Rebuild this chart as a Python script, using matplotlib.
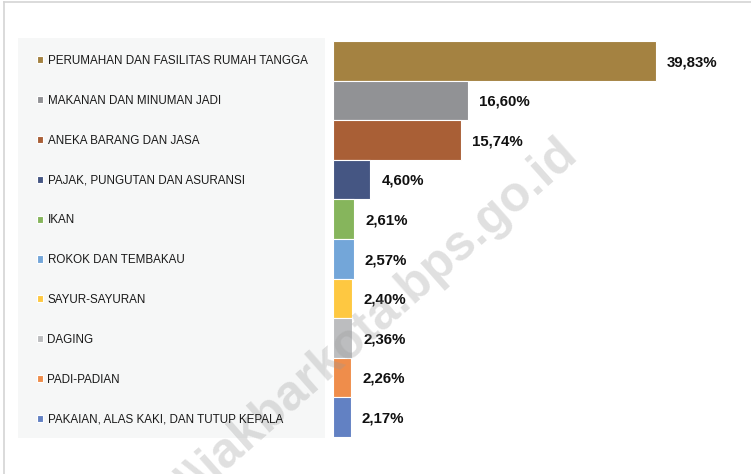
import matplotlib.pyplot as plt
from matplotlib.patches import Rectangle
from matplotlib.lines import Line2D

W, H = 751, 474

categories = [
    "PERUMAHAN DAN FASILITAS RUMAH TANGGA",
    "MAKANAN DAN MINUMAN JADI",
    "ANEKA BARANG DAN JASA",
    "PAJAK, PUNGUTAN DAN ASURANSI",
    "IKAN",
    "ROKOK DAN TEMBAKAU",
    "SAYUR-SAYURAN",
    "DAGING",
    "PADI-PADIAN",
    "PAKAIAN, ALAS KAKI, DAN TUTUP KEPALA",
]
values = [39.83, 16.60, 15.74, 4.60, 2.61, 2.57, 2.40, 2.36, 2.26, 2.17]
colors = ["#a48241", "#919295", "#a95f36", "#455683", "#86b55c",
          "#73a6d9", "#fec841", "#bcbdbf", "#ef8d4b", "#6281c3"]

plt.rcParams["font.family"] = ["Liberation Sans", "DejaVu Sans"]

fig = plt.figure(figsize=(W / 100, H / 100), dpi=100)
fig.patch.set_facecolor("white")

# outer frame (top and left edges visible in the crop)
fig.add_artist(Line2D([4 / W, 4 / W], [0, 1 - 2 / H], color="#d4d4d4", lw=1.2))
fig.add_artist(Line2D([4 / W, 1], [1 - 2 / H, 1 - 2 / H], color="#d4d4d4", lw=1.2))

# legend panel background
fig.add_artist(Rectangle((18 / W, 1 - 438 / H), 307 / W, 400 / H,
                         transform=fig.transFigure, color="#f6f7f7", lw=0))

# bars: 8.11 px per percentage point, starting at x=333
x0, top, bottom = 333, 41, 437
ax = fig.add_axes([x0 / W, 1 - bottom / H, (W - x0) / W, (bottom - top) / H])
ax.set_xlim(0, (W - x0) / 8.11)
ax.set_ylim(len(values) - 0.5, -0.5)
ax.axis("off")

ypos = list(range(len(values)))
bars = ax.barh(ypos, values, height=1.0, color=colors,
               edgecolor="white", linewidth=0.8)
for y, v in zip(ypos, values):
    ax.annotate(f"{v:.2f}%".replace(".", ","), (v, y), xytext=(8, -1),
                textcoords="offset points", va="center", ha="left",
                fontsize=10.8, fontweight="bold", color="#111111")

fig.legend(bars, categories, loc="upper left",
           bbox_to_anchor=(37 / W, 1 - 55 / H), frameon=False, borderpad=0,
           fontsize=8.4, handlelength=0.55, handleheight=0.55,
           handletextpad=0.35, labelspacing=2.385, borderaxespad=0,
           labelcolor="#1a1a1a")

# watermark
fig.text(580 / W, 1 - 158 / H, "\\\\jakbarkota.bps.go.id",
         rotation=41.5, rotation_mode="anchor", ha="right", va="baseline",
         fontsize=36, fontweight="bold", color="#9a9a9a", alpha=0.3)

fig.savefig("out.png", dpi=100)
